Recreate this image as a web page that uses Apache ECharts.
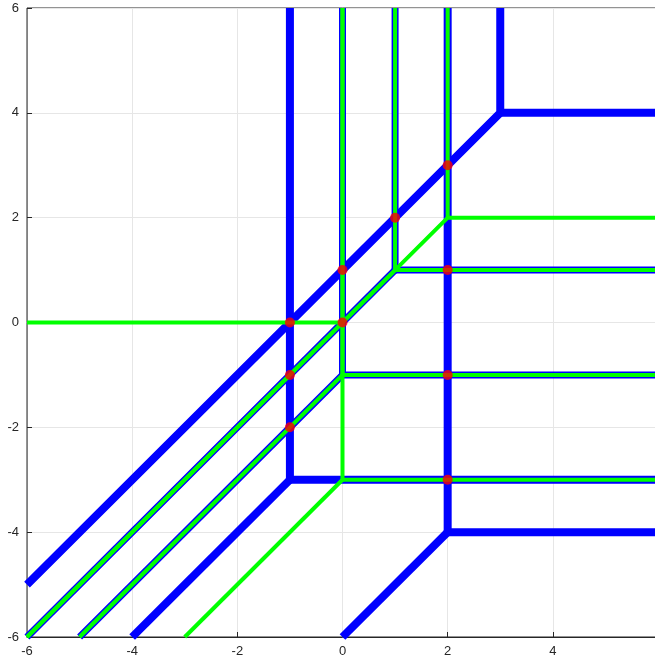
<!DOCTYPE html>
<html>
<head>
<meta charset="utf-8">
<script src="https://cdn.jsdelivr.net/npm/echarts@6/dist/echarts.min.js"></script>
<style>html,body{margin:0;padding:0;background:#fff;overflow:hidden;width:655px;height:666px}#c{width:672px;height:666px}</style>
</head>
<body>
<div id="c"></div>
<script>
// Thick blue polylines (tropical curve 1)
const thickBlue = [
  [[-1, 6], [-1, -3], [6, -3]],
  [[-1, -3], [-4, -6]],
  [[-6, -5], [3, 4], [3, 6]],
  [[3, 4], [6, 4]],
  [[2, 6], [2, -4], [6, -4]],
  [[2, -4], [0, -6]]
];
// Blue-edged green polylines (tropical curve 2)
const edgedGreen = [
  [[0, 6], [0, -1], [6, -1]],
  [[0, -1], [-5, -6]],
  [[1, 6], [1, 1], [6, 1]],
  [[1, 1], [-6, -6]]
];
// Green polylines (tropical conic)
const green = [
  [[-6, 0], [0, 0]],
  [[0, 6], [0, -3], [6, -3]],
  [[0, -3], [-3, -6]],
  [[-6, -6], [2, 2], [6, 2]],
  [[2, 2], [2, 6]]
];
// Red intersection points
const redX = [-1, 0, 1, 2, -1, -1, 0, 2, 2, 2];
const redY = [0, 1, 2, 3, -1, -2, 0, 1, -1, -3];

const series = [];
function addLines(list, color, width, z) {
  list.forEach(pts => series.push({
    type: 'line', data: pts, showSymbol: false, symbol: 'none', clip: true, z: z,
    lineStyle: { color: color, width: width, join: 'miter', cap: 'butt' },
    animation: false, silent: true
  }));
}
addLines(thickBlue, '#0000ff', 8, 2);
addLines(edgedGreen, '#0000ff', 7, 2);
addLines(edgedGreen, '#00ff00', 4, 3);
addLines(green, '#00ff00', 4, 3);
series.push({
  type: 'scatter', data: redX.map((x, i) => [x, redY[i]]),
  symbol: 'circle', symbolSize: 10, itemStyle: { color: '#ff0000' }, animation: false, z: 5
});

const axisCommon = {
  type: 'value', min: -6, max: 6, interval: 2,
  splitLine: { show: true, lineStyle: { color: '#e6e6e6', width: 1 } },
  axisTick: { show: true, inside: true, length: 5, lineStyle: { color: '#262626' } },
  axisLabel: { color: '#262626', fontSize: 13, fontFamily: 'Liberation Sans, Arial, sans-serif' }
};

const chart = echarts.init(document.getElementById('c'), null, { renderer: 'canvas' });
chart.setOption({
  backgroundColor: '#ffffff',
  animation: false,
  grid: { left: 27, top: 8, right: 14, bottom: 29, show: true, borderColor: '#262626', borderWidth: 1, backgroundColor: 'transparent' },
  xAxis: Object.assign({}, axisCommon, {
    axisLine: { show: true, onZero: false, lineStyle: { color: '#262626' } },
    axisLabel: Object.assign({}, axisCommon.axisLabel, { margin: 8 })
  }),
  yAxis: Object.assign({}, axisCommon, {
    axisLine: { show: true, onZero: false, lineStyle: { color: '#808080' } },
    axisLabel: Object.assign({}, axisCommon.axisLabel, { margin: 8 })
  }),
  series: series
});
</script>
</body>
</html>
